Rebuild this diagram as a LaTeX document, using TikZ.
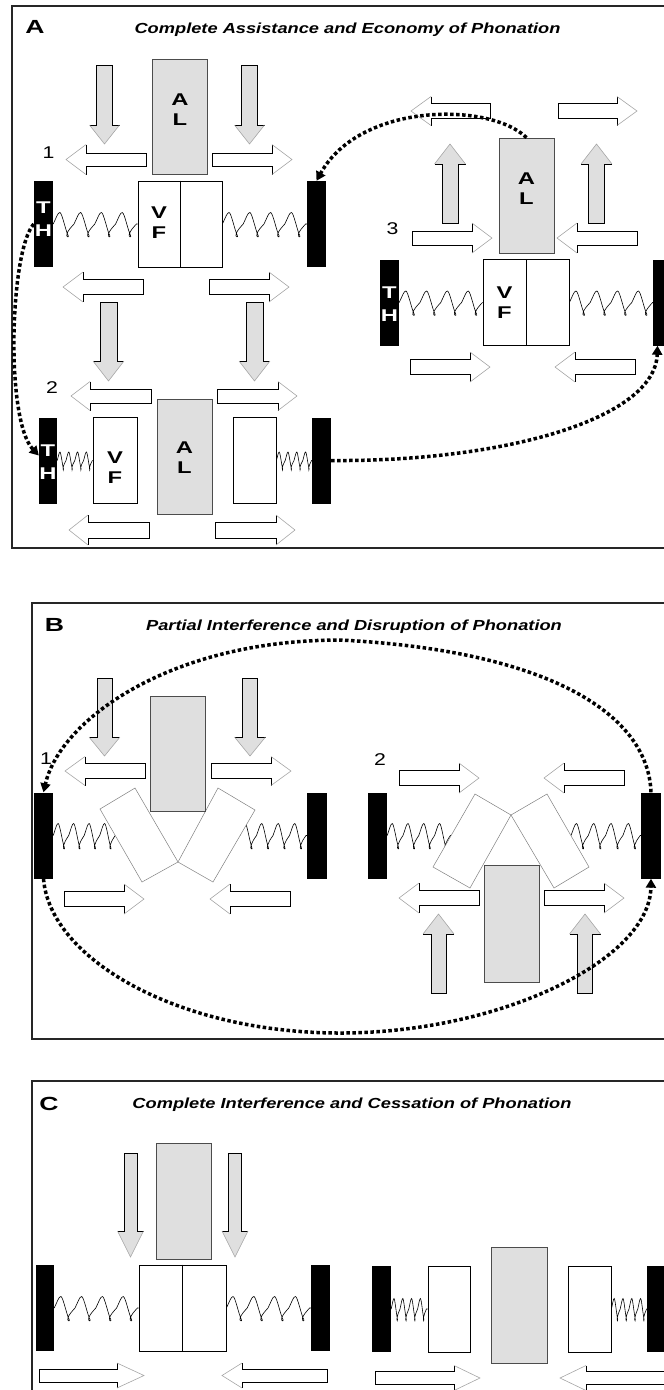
\documentclass[tikz,border=0pt]{standalone}
\usepackage{fontspec}
\setmainfont{Liberation Sans}[FakeStretch=1.25]
\newfontfamily\widefont{Liberation Sans}[FakeStretch=1.4]
\usepackage{tikz}
\usetikzlibrary{arrows.meta}
\usetikzlibrary{decorations}

\pgfdeclaredecoration{loopspring}{wind}{%
  \state{wind}[width=\pgfdecorationsegmentlength]{%
    \pgfmathsetmacro\sprW{\pgfdecorationsegmentlength}%
    \pgfmathsetmacro\sprA{\pgfdecorationsegmentamplitude}%
    \pgfpathcurveto{\pgfpoint{0.15*\sprW}{0.55*\sprA}}
      {\pgfpoint{0.22*\sprW}{\sprA}}
      {\pgfpoint{0.32*\sprW}{\sprA}}%
    \pgfpathcurveto{\pgfpoint{0.42*\sprW}{\sprA}}
      {\pgfpoint{0.6*\sprW}{-0.6*\sprA}}
      {\pgfpoint{0.72*\sprW}{-\sprA}}%
    \pgfpathcurveto{\pgfpoint{0.78*\sprW}{-1.2*\sprA}}
      {\pgfpoint{0.6*\sprW}{-1.15*\sprA}}
      {\pgfpoint{0.66*\sprW}{-0.85*\sprA}}%
    \pgfpathcurveto{\pgfpoint{0.72*\sprW}{-0.55*\sprA}}
      {\pgfpoint{0.85*\sprW}{-0.3*\sprA}}
      {\pgfpoint{\sprW}{0}}%
  }%
  \state{final}{\pgfpathlineto{\pgfpointdecoratedpathlast}}%
}

\tikzset{
  frame/.style={draw=black!85, line width=1.5pt},
  thbar/.style={rectangle, fill=black, minimum width=19pt, minimum height=86pt, inner sep=0pt},
  vfbox/.style={rectangle, draw=black, fill=white, line width=0.8pt, minimum height=86pt, inner sep=0pt},
  divider/.style={line width=0.8pt},
  albox/.style={rectangle, draw=black!70, fill=gray!25, line width=0.8pt, minimum width=55pt, minimum height=115pt, inner sep=0pt},
  leaf/.style={draw=gray, fill=white, line width=0.5pt},
  lbl/.style={font=\widefont\bfseries\fontsize{17}{20}\selectfont, align=center, inner sep=0pt},
  thlbl/.style={lbl, text=white, font=\widefont\bfseries\fontsize{17}{23}\selectfont},
  num/.style={font=\fontsize{17}{18}\selectfont, inner sep=0pt},
  panel/.style={font=\widefont\bfseries\fontsize{19}{20}\selectfont, inner sep=0pt},
  title/.style={font=\bfseries\itshape\fontsize{14.6}{17}\selectfont, inner sep=0pt, anchor=base},
  spring/.style={decorate, decoration={loopspring, amplitude=11.5pt, segment length=20.8pt}, line width=0.6pt},
  tight/.style={spring, decoration={amplitude=8.5pt, segment length=8.8pt}},
  mid/.style={spring, decoration={amplitude=12pt, segment length=15.5pt}},
  flow/.style={line width=3.5pt, dash pattern=on 3.5pt off 2.5pt, -{Triangle[length=9pt,width=10pt]}},
  arrline/.style={draw=black, line width=0.7pt},
  headline/.style={draw=gray!70, line width=0.6pt},
}

\newcommand{\blockarrow}[7][white]{%
  \begin{scope}[shift={#2}, rotate=#3]
    \fill[#1] (0,#5) -- ({#4-#7},#5) -- ({#4-#7},#6) -- (#4,0) -- ({#4-#7},-#6) -- ({#4-#7},-#5) -- (0,-#5) -- cycle;
    \draw[arrline] ({#4-#7},#6) -- ({#4-#7},#5) -- (0,#5) -- (0,-#5) -- ({#4-#7},-#5) -- ({#4-#7},-#6);
    \draw[headline] ({#4-#7},#6) -- (#4,0) -- ({#4-#7},-#6);
  \end{scope}}

\begin{document}
\begin{tikzpicture}[x=1pt, y=-1pt]
\useasboundingbox (0,0) rectangle (664,1390);
\draw[frame] (12,6) rectangle (680,548);
\draw[frame] (32,603) rectangle (680,1039);
\draw[frame] (32,1081) rectangle (680,1420);

\node[panel] (pa) at (35,27) {A};
\node[title] (ta) at (347.5,33.5) {Complete Assistance and Economy of Phonation};

\node[albox] (al1) at (180,116.5) {};
\node[lbl] (al1t) at (180,110) {A\\L};
\foreach \x in {104.5,249.5} {
  \blockarrow[gray!25]{(\x,65)}{-90}{79}{8}{15}{19}
}
\foreach \x/\a in {146/180,212/0} {
  \blockarrow{(\x,159.5)}{\a}{80}{6.5}{15}{20}
}
\node[num] (n1) at (48.5,153) {1};
\node[thbar] (th1l) at (43.5,224) {};
\node[thlbl] (th1lt) at (43.5,219) {T\\H};
\node[vfbox, minimum width=84pt] (vf1) at (180,224) {};
\draw[divider] (vf1.north) -- (vf1.south);
\node[lbl] (vf1t) at (159,223) {V\\F};
\node[thbar] (th1r) at (316.5,224) {};
\draw[spring] (th1l.east) -- (vf1.west);
\draw[spring] (vf1.east) -- (th1r.west);
\foreach \x/\a in {143/180,209/0} {
  \blockarrow{(\x,287)}{\a}{80}{7.5}{15}{20}
}
\foreach \x in {108.5,254.5} {
  \blockarrow[gray!25]{(\x,302)}{-90}{79}{8.5}{15.5}{20}
}

\node[num] (n2) at (52,387.5) {2};
\foreach \x/\a in {151/180,217/0} {
  \blockarrow{(\x,396)}{\a}{80}{7}{14.5}{19}
}
\node[thbar, minimum width=18pt] (th2l) at (48,460.5) {};
\node[thlbl] (th2lt) at (48,462.5) {T\\H};
\node[vfbox, minimum width=44pt] (vf2l) at (115,460.5) {};
\node[lbl] (vf2lt) at (115,468) {V\\F};
\node[albox] (al2) at (184.5,456.5) {};
\node[lbl] (al2t) at (184.5,457.5) {A\\L};
\node[vfbox, minimum width=43pt] (vf2r) at (254.5,460.5) {};
\node[thbar] (th2r) at (321.5,460.5) {};
\draw[tight] (th2l.east) -- (vf2l.west);
\draw[tight] (vf2r.east) -- (th2r.west);
\foreach \x/\a in {149/180,215/0} {
  \blockarrow{(\x,530)}{\a}{80}{8}{15}{19}
}

\foreach \x/\a in {490/180,558/0} {
  \blockarrow{(\x,111)}{\a}{79}{7.5}{14.5}{20}
}
\node[albox] (al3) at (526.5,195.5) {};
\node[lbl] (al3t) at (526.5,189) {A\\L};
\foreach \x in {450,596.5} {
  \blockarrow[gray!25]{(\x,223)}{90}{79}{8}{15.5}{20}
}
\node[num] (n3) at (392.5,229) {3};
\foreach \x/\a in {412/0,637/180} {
  \blockarrow{(\x,238)}{\a}{80}{7}{15}{20}
}
\node[thbar] (th3l) at (389.5,302.5) {};
\node[thlbl] (th3lt) at (389.5,304) {T\\H};
\node[vfbox, minimum width=86pt] (vf3) at (526,302.5) {};
\draw[divider] (vf3.north) -- (vf3.south);
\node[lbl] (vf3t) at (504.5,303) {V\\F};
\node[thbar] (th3r) at (662.5,302.5) {};
\draw[spring] (th3l.east) -- (vf3.west);
\draw[spring] (vf3.east) -- (th3r.west);
\foreach \x/\a in {410/0,635/180} {
  \blockarrow{(\x,367)}{\a}{80}{7.5}{15}{20}
}

\node[panel] (pb) at (54.5,625) {B};
\node[title] (tb) at (354,630) {Partial Interference and Disruption of Phonation};

\node[thbar] (thb1l) at (43.5,835.5) {};
\node[thbar, minimum width=20pt] (thb1r) at (317,835.5) {};
\coordinate (s1) at (116,835.5);
\coordinate (s2) at (240,835.5);
\draw[mid] (thb1l.east) -- (s1);
\draw[mid, decoration={segment length=16.5pt}] (s2) -- (thb1r.west);
\draw[leaf] (100,809) -- (135,788) -- (178,862) -- (142,882) -- cycle;
\draw[leaf] (178,862) -- (218,788) -- (255,810) -- (213,882) -- cycle;
\node[albox] (al4) at (177.5,753.5) {};
\foreach \x in {104.5,250} {
  \blockarrow[gray!25]{(\x,678)}{-90}{78}{7.5}{15.5}{19}
}
\foreach \x/\a in {145/180,211/0} {
  \blockarrow{(\x,771)}{\a}{80}{7.5}{14.5}{20}
}
\node[num] (n4) at (46,758.5) {1};
\foreach \x/\a in {64/0,290/180} {
  \blockarrow{(\x,899)}{\a}{80}{7.5}{15}{20}
}

\node[num] (n5) at (380,759.5) {2};
\foreach \x/\a in {399/0,624/180} {
  \blockarrow{(\x,778)}{\a}{80}{7.5}{15}{20}
}
\node[thbar] (thb2l) at (377.5,835.5) {};
\node[thbar, minimum width=20pt] (thb2r) at (651,835.5) {};
\coordinate (s3) at (451,835.5);
\coordinate (s4) at (571,835.5);
\draw[mid, decoration={segment length=15.8pt}] (thb2l.east) -- (s3);
\draw[mid, decoration={segment length=17.3pt}] (s4) -- (thb2r.west);
\draw[leaf] (433,867) -- (475,794) -- (511,815) -- (470,888) -- cycle;
\draw[leaf] (511,815) -- (547,794) -- (589,867) -- (554,888) -- cycle;
\node[albox, minimum height=117pt] (al5) at (511.5,923.5) {};
\foreach \x/\a in {479/180,544/0} {
  \blockarrow{(\x,898)}{\a}{80}{7.5}{15}{20}
}
\foreach \x in {438.5,585} {
  \blockarrow[gray!25]{(\x,993)}{90}{79}{7.5}{15.5}{20}
}

\node[panel] (pc) at (49,1103.5) {C};
\node[title] (tc) at (352,1108) {Complete Interference and Cessation of Phonation};

\node[albox, minimum height=116pt] (al6) at (183.5,1201) {};
\foreach \x in {130.5,235} {
  \blockarrow[gray!25]{(\x,1153)}{-90}{104}{6.5}{13}{26}
}
\node[thbar, minimum width=18pt] (thc1l) at (45,1308) {};
\node[vfbox, minimum width=87pt] (vf6) at (182.5,1308) {};
\draw[divider] (vf6.north) -- (vf6.south);
\node[thbar] (thc1r) at (320.5,1308) {};
\draw[spring] (thc1l.east) -- (vf6.west);
\draw[spring] (vf6.east) -- (thc1r.west);
\blockarrow{(39,1375.5)}{0}{105}{6.5}{12.5}{27}
\blockarrow{(327,1375.5)}{180}{105}{6.5}{12.5}{20}

\node[thbar] (thc2l) at (381.5,1309) {};
\node[vfbox, minimum width=42pt] (vf7l) at (449,1309) {};
\node[albox, minimum width=56pt, minimum height=116pt] (al7) at (519,1305) {};
\node[vfbox, minimum width=43pt] (vf7r) at (589.5,1309) {};
\node[thbar, minimum width=20pt] (thc2r) at (657,1309) {};
\draw[tight, decoration={amplitude=10.5pt}] (thc2l.east) -- (vf7l.west);
\draw[tight, decoration={amplitude=10.5pt}] (vf7r.east) -- (thc2r.west);
\blockarrow{(375,1378)}{0}{105}{6.5}{12.5}{26}
\blockarrow{(664,1378)}{180}{104}{6.5}{12.5}{26}

\draw[flow] (al3.north) .. controls (490,102) and (360,102) .. (th1r.north);
\draw[flow] (th1l.west) .. controls (10,250) and (5,420) .. ([yshift=5pt]th2l.west);
\draw[flow] (th2r.east) .. controls (500,462) and (655,420) .. ([xshift=-5pt]th3r.south);
\draw[flow] (thb2r.north) .. controls (648,710) and (540,650) .. (340,640) .. controls (170,640) and (60,720) .. (thb1l.north);
\draw[flow] (thb1l.south) .. controls (50,960) and (180,1033) .. (340,1033) .. controls (500,1033) and (650,960) .. (thb2r.south);
\end{tikzpicture}
\end{document}
